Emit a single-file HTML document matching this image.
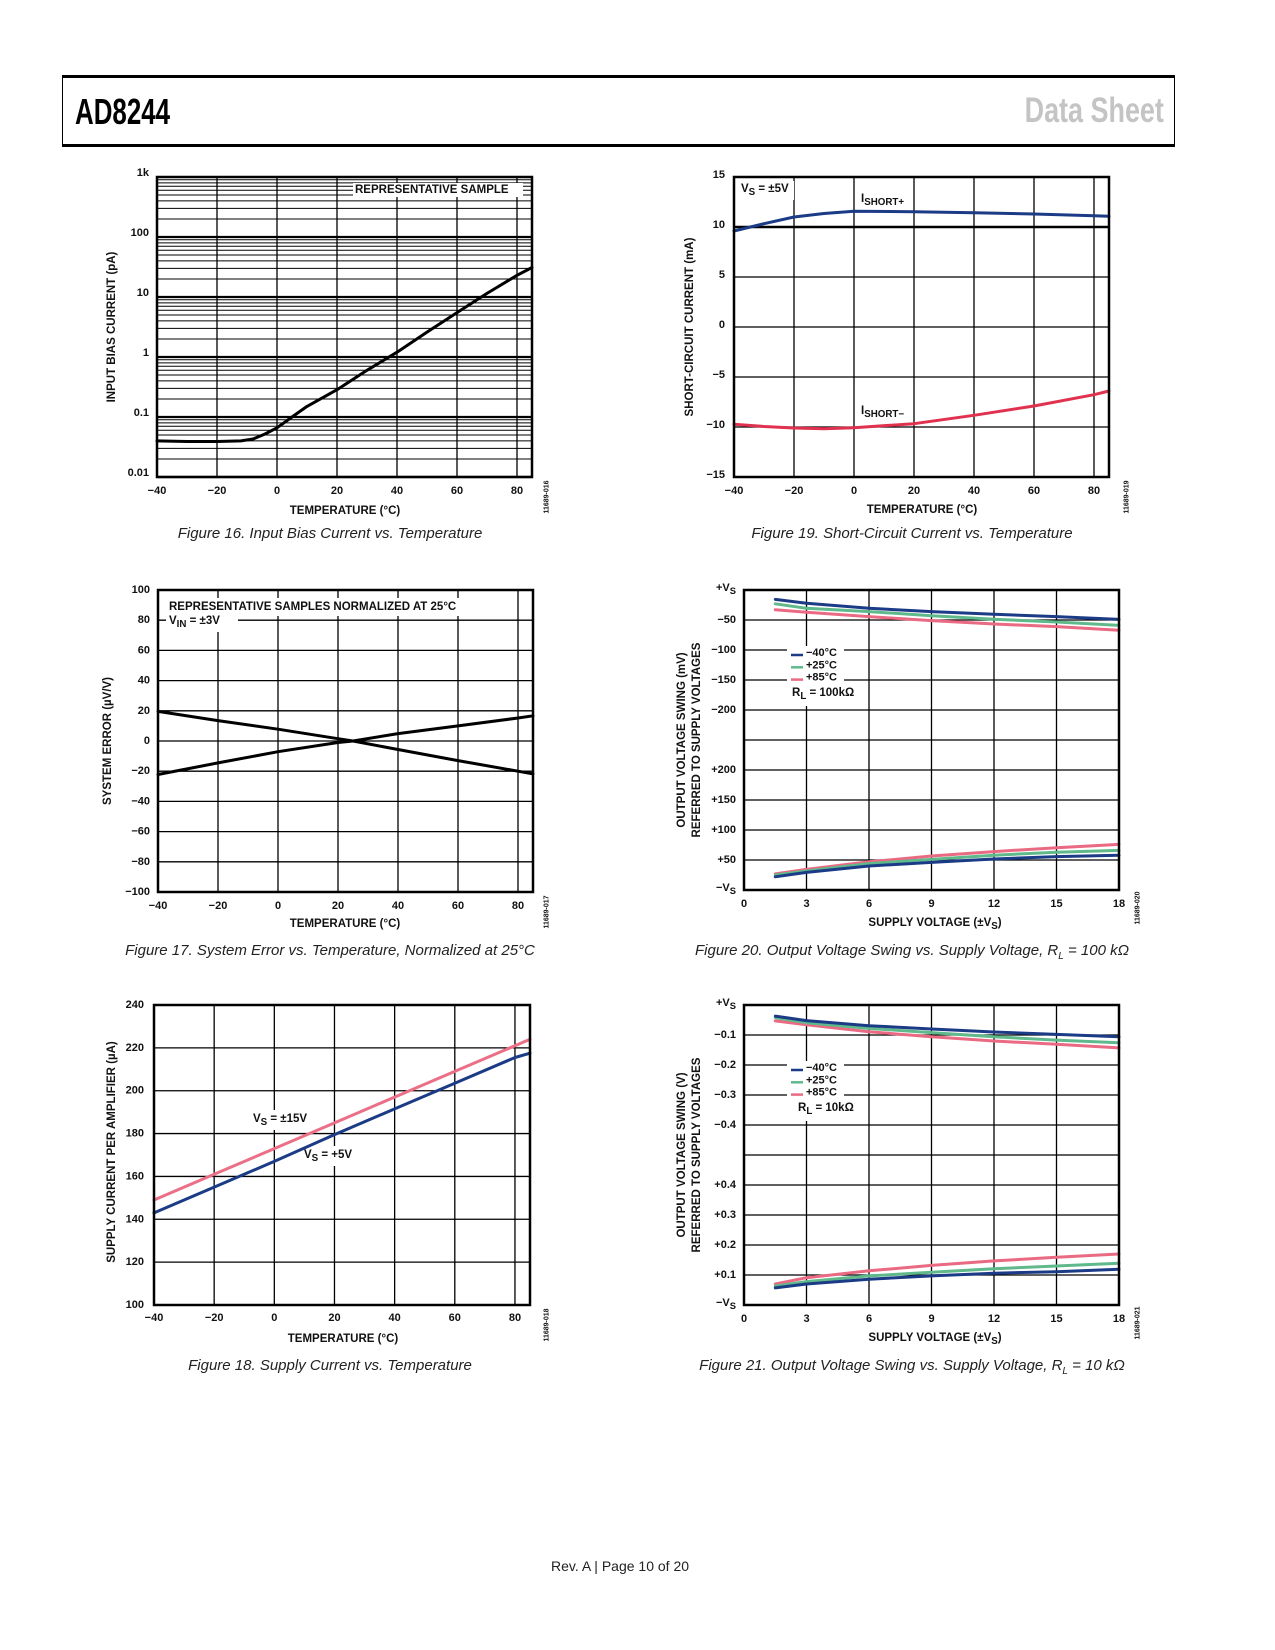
<!DOCTYPE html>
<html><head><meta charset="utf-8">
<style>
html,body{margin:0;padding:0;background:#fff;}
body{width:1275px;height:1650px;position:relative;overflow:hidden;font-family:"Liberation Sans",Arial,sans-serif;}
#hdr{position:absolute;left:62px;top:75px;width:1111px;height:66px;border-top:3px solid #000;border-bottom:3px solid #000;border-left:1.5px solid #000;border-right:1.5px solid #000;}
#title{position:absolute;left:12px;top:13px;font-weight:bold;font-size:36px;color:#000;transform:scaleX(0.72);transform-origin:left center;}
#ds{position:absolute;right:10px;top:13px;font-weight:bold;font-size:35px;color:#c4c4c4;transform:scaleX(0.77);transform-origin:right center;}
.cap{position:absolute;font-style:italic;font-size:15px;color:#222;white-space:nowrap;transform:translateX(-50%);}
#foot{position:absolute;left:620px;top:1558px;transform:translateX(-50%);font-size:14px;color:#222;}
svg{position:absolute;left:0;top:0;}
svg text{font-family:"Liberation Sans",Arial,sans-serif;font-weight:bold;fill:#111;}
</style></head>
<body>
<div id="hdr">
  <div id="title">AD8244</div>
  <div id="ds">Data Sheet</div>
</div>
<div class="cap" style="left:330px;top:525px">Figure 16. Input Bias Current vs. Temperature</div>
<div class="cap" style="left:912px;top:525px">Figure 19. Short-Circuit Current vs. Temperature</div>
<div class="cap" style="left:330px;top:942px">Figure 17. System Error vs. Temperature, Normalized at 25°C</div>
<div class="cap" style="left:912px;top:942px">Figure 20. Output Voltage Swing vs. Supply Voltage, R<sub style="font-size:10px">L</sub> = 100 kΩ</div>
<div class="cap" style="left:330px;top:1357px">Figure 18. Supply Current vs. Temperature</div>
<div class="cap" style="left:912px;top:1357px">Figure 21. Output Voltage Swing vs. Supply Voltage, R<sub style="font-size:10px">L</sub> = 10 kΩ</div>
<div id="foot">Rev. A | Page 10 of 20</div>
<svg id="page-svg" width="1275" height="1650" viewBox="0 0 1275 1650"></svg>
<script>
// ---------- data ----------
const tempTicks = [-40,-20,0,20,40,60,80];
const tempTickLabels = ['−40','−20','0','20','40','60','80'];
// Fig 16
const f16Temps = [-40,-30,-20,-12,-8,-4,0,5,10,20,30,40,50,60,70,80,85];
const f16Bias = [0.04,0.039,0.039,0.04,0.043,0.052,0.066,0.1,0.15,0.285,0.6,1.2,2.6,5.5,11.5,23,31];
const f16YTicks = [0.01,0.1,1,10,100,1000];
const f16YLabels = ['0.01','0.1','1','10','100','1k'];
// Fig 19
const f19Temps = [-40,-30,-20,-10,0,20,40,60,80,85];
const f19Plus = [9.6,10.33,11.0,11.35,11.57,11.53,11.43,11.3,11.13,11.07];
const f19Minus = [-9.73,-9.95,-10.1,-10.17,-10.07,-9.67,-8.83,-7.9,-6.77,-6.4];
const f19YTicks = [-15,-10,-5,0,5,10,15];
const f19YLabels = ['−15','−10','−5','0','5','10','15'];
// Fig 17
const f17Temps = [-40,-20,0,20,25,40,60,80,85];
const f17SampleA = [19.6,13.5,7.8,1.5,0,-5.6,-13,-20,-21.8];
const f17SampleB = [-22.2,-14.5,-7.1,-1,0,4.9,10,15.2,16.7];
const f17YTicks = [-100,-80,-60,-40,-20,0,20,40,60,80,100];
const f17YLabels = ['−100','−80','−60','−40','−20','0','20','40','60','80','100'];
// Fig 18
const f18Temps = [-40,-20,0,20,40,60,80,85];
const f18Vs15 = [149,161,173,185,197,209,221,224];
const f18Vs5 = [143,155,167,179.5,191.5,203.5,215.5,217.5];
const f18YTicks = [100,120,140,160,180,200,220,240];
const f18YLabels = ['100','120','140','160','180','200','220','240'];
// Fig 20 (mV from rail)
const vSupply = [1.5,3,6,9,12,15,18];
const vTicks = [0,3,6,9,12,15,18];
const vTickLabels = ['0','3','6','9','12','15','18'];
const f20TopM40 = [15.6,22,30.5,36,40.5,44.4,49];
const f20TopP25 = [23,30.5,36,42.8,48.9,53.3,59];
const f20TopP85 = [33,37,44.4,51,56.7,61,67];
const f20BotM40 = [22,29.4,40,46,51.7,55.6,58];
const f20BotP25 = [25,31.7,44,51,58,63,66];
const f20BotP85 = [27,34.4,47,56.7,64,70.5,76];
const f20TopTicks = [50,100,150,200];
const f20TopLabels = ['−50','−100','−150','−200'];
const f20BotTicks = [50,100,150,200];
const f20BotLabels = ['+50','+100','+150','+200'];
// Fig 21 (V from rail)
const f21TopM40 = [0.037,0.052,0.069,0.08,0.09,0.098,0.106];
const f21TopP25 = [0.042,0.059,0.078,0.092,0.106,0.117,0.126];
const f21TopP85 = [0.053,0.066,0.089,0.106,0.12,0.131,0.143];
const f21BotM40 = [0.057,0.07,0.086,0.097,0.106,0.111,0.119];
const f21BotP25 = [0.063,0.078,0.097,0.109,0.121,0.13,0.139];
const f21BotP85 = [0.07,0.091,0.114,0.132,0.147,0.159,0.17];
const f21TopTicks = [0.1,0.2,0.3,0.4];
const f21TopLabels = ['−0.1','−0.2','−0.3','−0.4'];
const f21BotTicks = [0.1,0.2,0.3,0.4];
const f21BotLabels = ['+0.1','+0.2','+0.3','+0.4'];

// ---------- helpers ----------
const NS='http://www.w3.org/2000/svg';
const svg=document.getElementById('page-svg');
function mk(t,a){const e=document.createElementNS(NS,t);for(const k in a)e.setAttribute(k,a[k]);svg.appendChild(e);return e;}
function lin(d0,d1,r0,r1){return v=>r0+(v-d0)*(r1-r0)/(d1-d0);}
function hline(y,x0,x1,w){return mk('line',{x1:x0,x2:x1,y1:y,y2:y,stroke:'#000','stroke-width':w});}
function vline(x,y0,y1,w){return mk('line',{x1:x,x2:x,y1:y0,y2:y1,stroke:'#000','stroke-width':w});}
function txt(x,y,s,size,anchor){const e=mk('text',{x:x,y:y,'font-size':size,'text-anchor':anchor||'start','dominant-baseline':'central'});e.textContent=s;return e;}
function rtxt(x,y,s,size){const e=mk('text',{x:0,y:0,'font-size':size,'text-anchor':'middle','dominant-baseline':'central',transform:'translate('+x+','+y+') rotate(-90)'});e.textContent=s;return e;}
function path(xs,ys,fx,fy,color,w){let d='';for(let i=0;i<xs.length;i++)d+=(i?'L':'M')+fx(xs[i]).toFixed(1)+','+fy(ys[i]).toFixed(1);return mk('path',{d:d,fill:'none',stroke:color,'stroke-width':w,'stroke-linejoin':'round','stroke-linecap':'round'});}
function frame(x0,y0,x1,y1){return mk('rect',{x:x0,y:y0,width:x1-x0,height:y1-y0,fill:'none',stroke:'#000','stroke-width':2.5});}
function whiteBox(x,y,w,h){return mk('rect',{x:x,y:y,width:w,height:h,fill:'#fff'});}
function subTxt(x,y,main,sub,rest,size,anchor){const e=mk('text',{x:x,y:y,'font-size':size,'text-anchor':anchor||'start','dominant-baseline':'central'});e.appendChild(document.createTextNode(main));const s=document.createElementNS(NS,'tspan');s.setAttribute('font-size',size*0.85);s.setAttribute('dy',3);s.textContent=sub;e.appendChild(s);const r=document.createElementNS(NS,'tspan');r.setAttribute('dy',-3);r.textContent=rest;e.appendChild(r);return e;}
let el;
const BLUE='#1b3b86',GREEN='#5fb98b',PINK='#e96a82',RED='#e0324f',PINK18='#ec6f88';

// ---------- Figure 16 ----------
{
const X=lin(-40,85,157,532); const Y=v=>477-(Math.log10(v)+2)*60;
for(let d=-2;d<3;d++){for(let m=1;m<10;m++){const v=m*Math.pow(10,d);if(v>1000)continue;el=hline(Y(v),157,532,m===1?2.2:1);

}}
tempTicks.forEach((t,i)=>{if(i>0){el=vline(X(t),177,477,1.3);

}
el=txt(X(t),491,tempTickLabels[i],11,'middle');

});
f16YTicks.forEach((v,i)=>{el=txt(149,Y(v)-4,f16YLabels[i],11,'end');

});
el=whiteBox(353,183,170,14);


el=txt(355,190,'REPRESENTATIVE SAMPLE',11.5);


el=path(f16Temps,f16Bias,X,Y,'#000',3);


el=frame(157,177,532,477);


el=txt(345,511,'TEMPERATURE (°C)',11.5,'middle');


el=rtxt(112,327,'INPUT BIAS CURRENT (pA)',11.5);


el=rtxt(547,497,'11689-016',7);el.setAttribute('font-weight','normal');


}

// ---------- Figure 19 ----------
{
const X=lin(-40,85,734,1109); const Y=lin(-15,15,477,177);
f19YTicks.forEach((v,i)=>{if(v>-15&&v<15){el=hline(Y(v),734,1109,v===10?2.5:1.3);

}
el=txt(725,Y(v)-2,f19YLabels[i],11,'end');

});
tempTicks.forEach((t,i)=>{if(i>0){el=vline(X(t),177,477,1.3);

}
el=txt(X(t),491,tempTickLabels[i],11,'middle');

});
el=whiteBox(738,181,56,19);


el=subTxt(741,189,'V','S',' = ±5V',11.5);


el=subTxt(861,199,'I','SHORT+','',11.5);


el=subTxt(861,411,'I','SHORT−','',11.5);


el=path(f19Temps,f19Plus,X,Y,BLUE,3);


el=path(f19Temps,f19Minus,X,Y,RED,3);


el=frame(734,177,1109,477);


el=txt(922,510,'TEMPERATURE (°C)',11.5,'middle');


el=rtxt(690,327,'SHORT-CIRCUIT CURRENT (mA)',11.5);


el=rtxt(1127,497,'11689-019',7);el.setAttribute('font-weight','normal');


}

// ---------- Figure 17 ----------
{
const X=lin(-40,85,158,533); const Y=lin(-100,100,892,590);
f17YTicks.forEach((v,i)=>{if(v>-100&&v<100){el=hline(Y(v),158,533,1.3);

}
el=txt(150,Y(v),f17YLabels[i],11,'end');

});
tempTicks.forEach((t,i)=>{if(i>0){el=vline(X(t),590,892,1.3);

}
el=txt(X(t),906,tempTickLabels[i],11,'middle');

});
el=whiteBox(166,598,330,18);


el=whiteBox(166,614,72,18);


el=txt(169,607,'REPRESENTATIVE SAMPLES NORMALIZED AT 25°C',11.5);


el=subTxt(169,621,'V','IN',' = ±3V',11.5);


el=path(f17Temps,f17SampleA,X,Y,'#000',3);


el=path(f17Temps,f17SampleB,X,Y,'#000',3);


el=frame(158,590,533,892);


el=txt(345,924,'TEMPERATURE (°C)',11.5,'middle');


el=rtxt(108,741,'SYSTEM ERROR (µV/V)',11.5);


el=rtxt(547,912,'11689-017',7);el.setAttribute('font-weight','normal');


}

// ---------- Figure 18 ----------
{
const X=lin(-40,85,154,530); const Y=lin(100,240,1305,1005);
f18YTicks.forEach((v,i)=>{if(v>100&&v<240){el=hline(Y(v),154,530,1.3);

}
el=txt(144,Y(v),f18YLabels[i],11,'end');

});
tempTicks.forEach((t,i)=>{if(i>0){el=vline(X(t),1005,1305,1.3);

}
el=txt(X(t),1318,tempTickLabels[i],11,'middle');

});
el=whiteBox(251,1110,72,20);


el=whiteBox(302,1146,66,20);


el=path(f18Temps,f18Vs15,X,Y,PINK18,3);


el=path(f18Temps,f18Vs5,X,Y,BLUE,3);


el=subTxt(253,1119,'V','S',' = ±15V',11.5);


el=subTxt(304,1155,'V','S',' = +5V',11.5);


el=frame(154,1005,530,1305);


el=txt(343,1339,'TEMPERATURE (°C)',11.5,'middle');


el=rtxt(112,1152,'SUPPLY CURRENT PER AMPLIFIER (µA)',11.5);


el=rtxt(547,1325,'11689-018',7);el.setAttribute('font-weight','normal');


}

// ---------- Figures 20 & 21 ----------
function swingChart(pre,top,scale,topTicks,topLabels,botTicks,botLabels,tM40,tP25,tP85,bM40,bP25,bP85,rl,idTxt){
const X=lin(0,18,744,1119); const YT=v=>top+v*scale; const YB=v=>top+300-v*scale;
for(let i=1;i<10;i++){el=hline(top+30*i,744,1119,1.3);

}
vTicks.forEach((t,i)=>{if(i>0&&i<6){el=vline(X(t),top,top+300,1.3);

}
el=txt(X(t),top+314,vTickLabels[i],11,'middle');

});
topTicks.forEach((v,i)=>{el=txt(736,YT(v),topLabels[i],11,'end');

});
botTicks.forEach((v,i)=>{el=txt(736,YB(v),botLabels[i],11,'end');

});
el=subTxt(736,top-2,'+V','S','',11,'end');


el=subTxt(736,top+298,'−V','S','',11,'end');


el=whiteBox(787,top+56,57,60);


[[BLUE,'−40°C'],[GREEN,'+25°C'],[PINK,'+85°C']].forEach((c,i)=>{
el=mk('line',{x1:791,x2:803,y1:top+65+i*12.3,y2:top+65+i*12.3,stroke:c[0],'stroke-width':2.5});


el=txt(806,top+63+i*12.3,c[1],11);

});
el=subTxt(rl==='100kΩ'?792:798,top+103,'R','L',' = '+rl,11.5);


const sets=[[tP85,PINK,YT,'top-85c'],[tP25,GREEN,YT,'top-25c'],[tM40,BLUE,YT,'top-m40c'],[bP85,PINK,YB,'bottom-85c'],[bP25,GREEN,YB,'bottom-25c'],[bM40,BLUE,YB,'bottom-m40c']];
sets.forEach(s=>{el=path(vSupply,s[0],X,s[2],s[1],3);

});
el=frame(744,top,1119,top+300);


el=subTxt(935,top+333,'SUPPLY VOLTAGE (±V','S',')',11.5,'middle');


el=rtxt(682,top+150,pre==='fig20'?'OUTPUT VOLTAGE SWING (mV)':'OUTPUT VOLTAGE SWING (V)',11.5);


el=rtxt(697,top+150,'REFERRED TO SUPPLY VOLTAGES',11.5);


el=rtxt(1138,top+318,idTxt,7);el.setAttribute('font-weight','normal');


}
swingChart('fig20',590,0.6,f20TopTicks,f20TopLabels,f20BotTicks,f20BotLabels,f20TopM40,f20TopP25,f20TopP85,f20BotM40,f20BotP25,f20BotP85,'100kΩ','11689-020');
swingChart('fig21',1005,300,f21TopTicks,f21TopLabels,f21BotTicks,f21BotLabels,f21TopM40,f21TopP25,f21TopP85,f21BotM40,f21BotP25,f21BotP85,'10kΩ','11689-021');
</script>
</body></html>
